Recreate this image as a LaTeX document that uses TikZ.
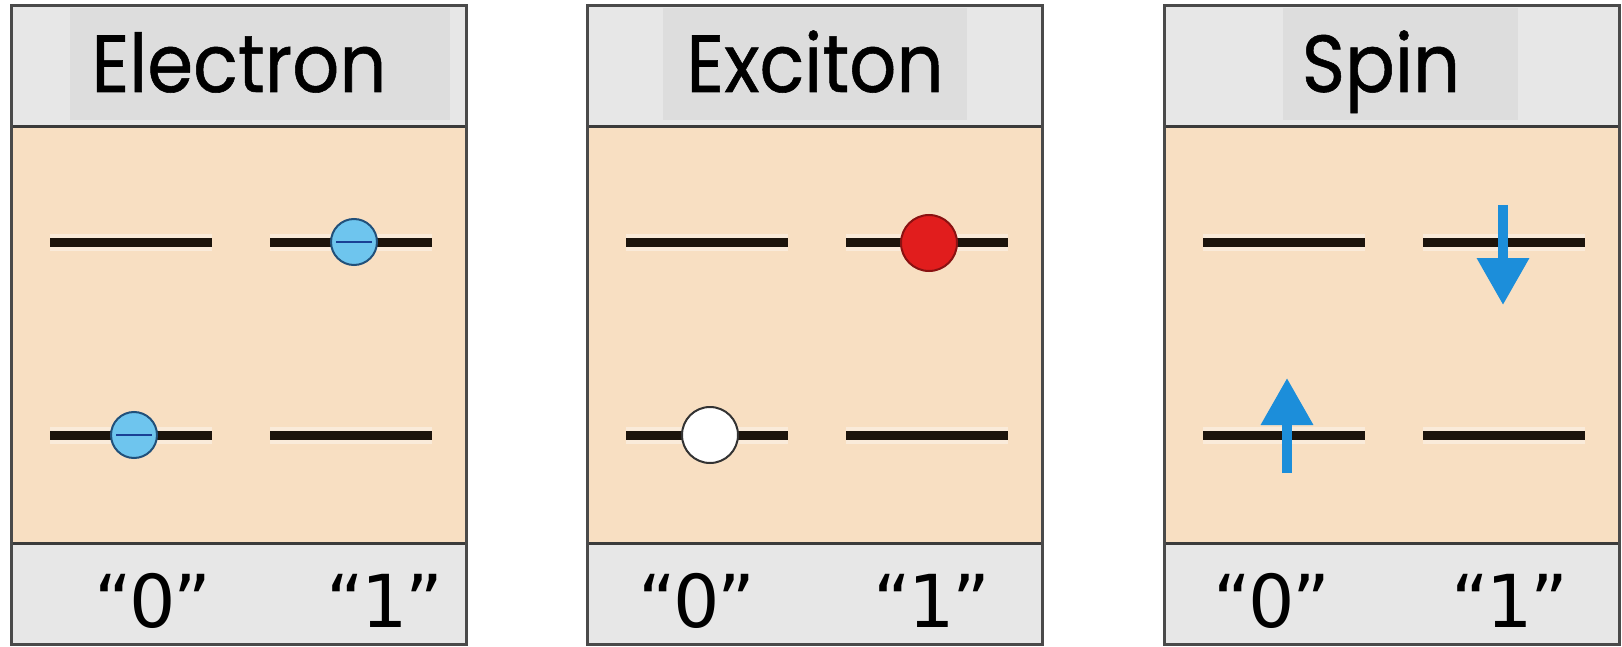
\documentclass[tikz,border=0pt]{standalone}
\usepackage{fontspec}
\setmainfont{DejaVu Sans}
\newfontfamily\titlefont[FakeBold=0.7]{Poppins}
\usetikzlibrary{arrows.meta}
\definecolor{hdr}{HTML}{E7E7E7}
\definecolor{hdrbox}{HTML}{DDDDDD}
\definecolor{bodyc}{HTML}{F8DFC2}
\definecolor{framec}{HTML}{4A4A4A}
\definecolor{levelc}{HTML}{1C140C}
\definecolor{eblue}{HTML}{6EC5EE}
\definecolor{eline}{HTML}{21507A}
\definecolor{hred}{HTML}{E11D1D}
\definecolor{hredline}{HTML}{8A1212}
\definecolor{sblue}{HTML}{1C8EDA}
\begin{document}
\begin{tikzpicture}[x=1pt,y=-1pt,
  levelline/.style={line width=9pt, draw=levelc},
  halo/.style={line width=17pt, draw=white, opacity=0.4},
  framebox/.style={draw=framec, line width=3pt},
  sepline/.style={draw=framec!80!black, line width=3pt},
  titletext/.style={font=\titlefont\fontsize{81}{92}\selectfont, inner sep=0pt, anchor=base},
  bitlabel/.style={font=\fontsize{73}{88}\selectfont, inner sep=0pt, anchor=base},
  eball/.style={circle, fill=eblue, draw=eline, line width=2pt, minimum size=46pt, inner sep=0pt},
  minusbar/.style={draw=eline!80!blue, line width=2pt},
  hole/.style={circle, fill=white, draw=black!80, line width=2pt, minimum size=56pt, inner sep=0pt},
  redball/.style={circle, fill=hred, draw=hredline, line width=2pt, minimum size=56pt, inner sep=0pt},
  spinarrow/.style={draw=sblue, line width=10pt, -{Triangle[width=50pt,length=47pt]}}
]
\useasboundingbox (0,0) rectangle (1622,647);
\fill[white] (0,0) rectangle (1622,647);
% panels
\foreach \px/\bx/\bw in {11/70/380, 587/663/304, 1164/1283/235}{
  \fill[hdr] (\px,6) rectangle ++(455,121);
  \fill[hdrbox] (\bx,8) rectangle ++(\bw,112);
  \fill[bodyc] (\px,127) rectangle ++(455,416);
  \fill[hdr] (\px,543) rectangle ++(455,101);
  \draw[sepline] (\px,127) -- ++(455,0);
  \draw[sepline] (\px,543) -- ++(455,0);
  \draw[framebox] (\px,6) rectangle ++(455,638);
}
% energy levels
\foreach \px/\nm in {11/a, 587/b, 1164/c}{
  \coordinate (\nm ul1) at ({\px+39},242);
  \coordinate (\nm ur1) at ({\px+201},242);
  \coordinate (\nm ul2) at ({\px+259},242);
  \coordinate (\nm ur2) at ({\px+421},242);
  \coordinate (\nm ll1) at ({\px+39},435);
  \coordinate (\nm lr1) at ({\px+201},435);
  \coordinate (\nm ll2) at ({\px+259},435);
  \coordinate (\nm lr2) at ({\px+421},435);
  \draw[halo] (\nm ul1) -- (\nm ur1);
  \draw[halo] (\nm ul2) -- (\nm ur2);
  \draw[halo] (\nm ll1) -- (\nm lr1);
  \draw[halo] (\nm ll2) -- (\nm lr2);
  \draw[levelline] (\nm ul1) -- (\nm ur1);
  \draw[levelline] (\nm ul2) -- (\nm ur2);
  \draw[levelline] (\nm ll1) -- (\nm lr1);
  \draw[levelline] (\nm ll2) -- (\nm lr2);
}
% titles
\node[titletext] (t1) at (239,92) {\scalebox{0.91}[1]{Electron}};
\node[titletext] (t2) at (815,92) {\scalebox{0.91}[1]{Exciton}};
\node[titletext] (t3) at (1381,92) {\scalebox{0.91}[1]{Spin}};
% electron panel
\node[eball] (e1) at (354,242) {};
\draw[minusbar] ([xshift=-18pt]e1.center) -- ([xshift=18pt]e1.center);
\node[eball] (e0) at (134,435) {};
\draw[minusbar] ([xshift=-18pt]e0.center) -- ([xshift=18pt]e0.center);
% exciton panel
\node[redball] (x1) at (929,243) {};
\node[hole] (x0) at (710,435) {};
% spin panel
\coordinate (d0) at (1503,205);
\coordinate (d1) at (1503,305);
\coordinate (u0) at (1287,473);
\coordinate (u1) at (1287,378);
\draw[spinarrow] (d0) -- (d1);
\draw[spinarrow] (u0) -- (u1);
% bit labels
\node[bitlabel] (l10) at (153,627) {“\kern-3pt 0\kern-3pt”};
\node[bitlabel] (l11) at (385,627) {“\kern-3pt 1\kern-3pt”};
\node[bitlabel] (l20) at (697,627) {“\kern-3pt 0\kern-3pt”};
\node[bitlabel] (l21) at (932,627) {“\kern-3pt 1\kern-3pt”};
\node[bitlabel] (l30) at (1272,627) {“\kern-3pt 0\kern-3pt”};
\node[bitlabel] (l31) at (1510,627) {“\kern-3pt 1\kern-3pt”};
\end{tikzpicture}
\end{document}
